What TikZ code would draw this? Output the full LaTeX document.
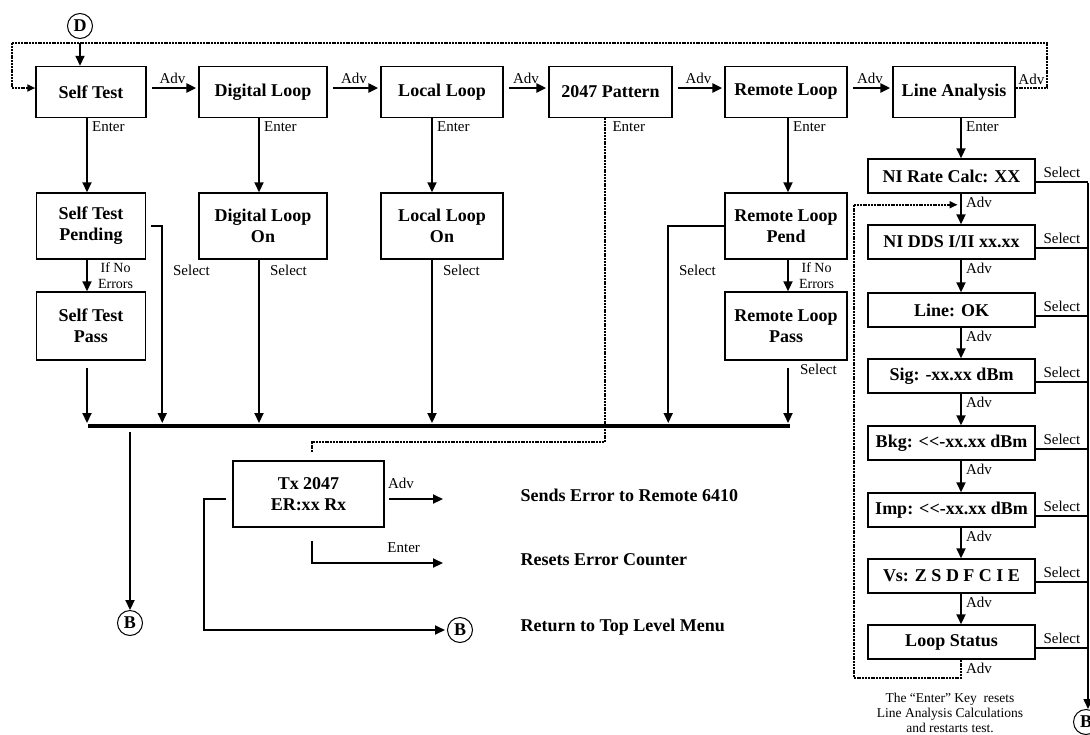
\documentclass[tikz,border=0pt]{standalone}
\usepackage{fontspec}
\setmainfont{Liberation Serif}
\usepackage{tikz}
\usetikzlibrary{
arrows.meta,
positioning,
calc
}
\newcommand{\boxfont}{\fontsize{18}{21}\selectfont\bfseries}
\newcommand{\keyfont}{\fontsize{15}{17}\selectfont}

\begin{document}
\begin{tikzpicture}[
  x=1pt, y=-1pt,
  >={Triangle[length=10pt, width=9pt]},
  menubox/.style={draw, line width=1.5pt, font=\boxfont, align=center, inner sep=2pt},
  topbox/.style={menubox, minimum height=51pt},
  subbox/.style={menubox, minimum height=66pt},
  lnbox/.style={menubox, minimum width=167pt, minimum height=34pt},
  arr/.style={->, line width=2.2pt},
  selline/.style={line width=1.2pt},
  loopline/.style={line width=2pt, dash pattern=on 2pt off 0.8pt},
  keylbl/.style={font=\keyfont, inner sep=1pt},
  conn/.style={draw, circle, line width=1pt, inner sep=0pt, minimum size=25pt,
    font=\fontsize{18}{18}\selectfont\bfseries}
]
\useasboundingbox (0,0) rectangle (1090,734);

%% ── TOP LEVEL MENU ──────────────────────────────────────────
\node[topbox, minimum width=110pt] (selftest) at (91,92)    {Self Test};
\node[topbox, minimum width=128pt] (digital)  at (263,92)   {Digital Loop};
\node[topbox, minimum width=122pt] (local)    at (442,92)   {Local Loop};
\node[topbox, minimum width=123pt] (pattern)  at (610.5,92) {2047 Pattern};
\node[topbox, minimum width=122pt] (remote)   at (786,92)   {Remote Loop};
\node[topbox, minimum width=122pt] (lineana)  at (954,92)   {Line Analysis};

\node[conn] (dnode) at (80,26) {D};
\draw[arr, shorten <=4pt] (dnode.south) -- (dnode.south |- selftest.north);

\foreach \a/\b in {selftest/digital, digital/local, local/pattern,
                   pattern/remote, remote/lineana}
  \draw[arr, line width=2.8pt, shorten <=5pt, shorten >=2pt]
    ([yshift=4pt]\a.east) -- ([yshift=4pt]\b.west)
    node[keylbl, midway, above=2pt] {Adv};

%% loop back to Self Test
\coordinate (topL) at (12,43);
\coordinate (topR) at (1047,43);
\draw[loopline, ->, >={Triangle[length=8pt, width=7pt]}]
  ([yshift=4pt]lineana.east) -- ([yshift=4pt]lineana.east -| topR)
  node[keylbl, midway, above=1pt] {Adv}
  -- (topR) -- (topL) |- ([yshift=4pt]selftest.west);

%% ── SUB MENUS ───────────────────────────────────────────────
\node[subbox, minimum width=109pt] (pend)  at (91,226)  {Self Test\\Pending};
\node[subbox, minimum width=128pt] (digon) at (263,226) {Digital Loop\\On};
\node[subbox, minimum width=122pt] (locon) at (442,226) {Local Loop\\On};
\node[subbox, minimum width=122pt] (rpend) at (786,226) {Remote Loop\\Pend};
\node[subbox, minimum width=109pt, minimum height=68pt] (pass)  at (91,326)
  {Self Test\\Pass};
\node[subbox, minimum width=122pt, minimum height=68pt] (rpass) at (786,326)
  {Remote Loop\\Pass};

%% ── LINE ANALYSIS ───────────────────────────────────────────
\node[lnbox] (nirate) at (951.5,176) {NI Rate Calc: XX};
\node[lnbox] (nidds)  at (951.5,242) {NI DDS I/II xx.xx};
\node[lnbox] (lineok) at (951.5,310) {Line: OK};
\node[lnbox] (sig)    at (951.5,376) {Sig: -xx.xx dBm};
\node[lnbox] (bkg)    at (951.5,443) {Bkg: <\kern0pt<-xx.xx dBm};
\node[lnbox] (imp)    at (951.5,510) {Imp: <\kern0pt<-xx.xx dBm};
\node[lnbox] (vs)     at (951.5,576) {Vs: Z S D F C I E};
\node[lnbox] (loopst) at (951.5,642) {Loop Status};

%% Enter arrows
\foreach \a/\b/\dx in {selftest/pend/-4, digital/digon/-4, local/locon/-10,
                       remote/rpend/2, lineana/nirate/7}
  \draw[arr] ([xshift=\dx pt]\a.south) -- ([xshift=\dx pt]\a.south |- \b.north)
    node[keylbl, at start, anchor=north west, xshift=3pt, yshift=-1pt] {Enter};

\foreach \a/\b/\dx in {pend/pass/-4, rpend/rpass/2}
  \draw[arr] ([xshift=\dx pt]\a.south) -- ([xshift=\dx pt]\a.south |- \b.north)
    node[keylbl, midway, right, xshift=9pt, align=center,
         font=\fontsize{14}{16}\selectfont] {If No\\Errors};

%% ── RETURN BUS ──────────────────────────────────────────────
\coordinate (busL) at (88,426);
\coordinate (busR) at (790,426);
\draw[line width=4.5pt] (busL) -- (busR);

\foreach \a/\dx in {digon/-4, locon/-10}
  \draw[arr, shorten >=3pt] ([xshift=\dx pt]\a.south) -- ([xshift=\dx pt]\a.south |- busL)
    node[keylbl, at start, anchor=north west, xshift=9pt, yshift=-3pt] {Select};

\draw[arr, shorten <=7pt, shorten >=3pt]
  ([xshift=-4pt]pass.south) -- ([xshift=-4pt]pass.south |- busL);
\draw[arr, shorten <=7pt, shorten >=3pt]
  ([xshift=2pt]rpass.south) -- ([xshift=2pt]rpass.south |- busL)
  node[keylbl, at start, anchor=north west, xshift=10pt, yshift=-1pt] {Select};

\draw[arr, line width=1.8pt, shorten >=3pt]
  ([xshift=5pt]pend.east) -| ([xshift=16pt]pend.east |- busL)
  node[keylbl, pos=0.61, right, xshift=9pt] {Select};
\draw[arr, line width=1.8pt, shorten >=3pt]
  (rpend.west) -| ([xshift=-56pt]rpend.west |- busL)
  node[keylbl, pos=0.61, right, xshift=9pt] {Select};

\node[conn] (bL) at (130,623) {B};
\draw[arr, shorten <=6pt] (bL |- busL) -- (bL.north);

%% ── 2047 PATTERN SUB MENU ───────────────────────────────────
\node[subbox, minimum width=151pt] (tx) at (308.5,494) {Tx 2047\\ER:xx Rx};

\draw[loopline] ([xshift=-6pt]pattern.south)
  node[keylbl, anchor=north west, xshift=6pt, yshift=-1pt] {Enter}
  |- ([xshift=3.5pt, yshift=18pt]tx.north) -- ([xshift=3.5pt, yshift=8pt]tx.north);

\coordinate (advend) at (443,499);
\coordinate (entend) at (443,563);
\node[conn] (bM) at (460,630) {B};

\draw[arr, shorten <=4pt] ([yshift=-5pt]tx.east) -- (advend)
  node[keylbl, pos=0.28, above=8pt] {Adv};
\draw[arr, shorten <=13pt] ([xshift=3.5pt]tx.south) |- (entend)
  node[keylbl, pos=0.85, above=8pt] {Enter};
\draw[arr, line width=1.8pt, shorten <=6pt, shorten >=2pt]
  ([yshift=-5pt]tx.west) -- ++(-28,0) |- (bM.west);

\node[font=\boxfont, anchor=west] (sends)  at (517,495) {Sends Error to Remote 6410};
\node[font=\boxfont, anchor=west] (resets) at (517,560) {Resets Error Counter};
\node[font=\boxfont, anchor=west] (topmenu) at (517,627) {Return to Top Level Menu};

%% ── LINE ANALYSIS LINKS ─────────────────────────────────────
\foreach \a/\b in {nirate/nidds, nidds/lineok, lineok/sig, sig/bkg,
                   bkg/imp, imp/vs, vs/loopst}
  \draw[arr] ([xshift=9.5pt]\a.south) -- ([xshift=9.5pt]\b.north)
    node[keylbl, at start, anchor=north west, xshift=3pt, yshift=-1pt] {Adv};

\draw[loopline, ->, >={Triangle[length=8pt, width=7pt]}]
  ([xshift=9.5pt]loopst.south) -- ++(0,18)
  node[keylbl, midway, right, xshift=3pt] {Adv}
  -| ([xshift=-98pt, yshift=-11pt]nirate.south)
  -- ([xshift=6pt, yshift=-11pt]nirate.south);

%% Select lines
\coordinate (selbus) at (1088,183);
\foreach \n in {nirate, nidds, lineok, sig, bkg, imp, vs, loopst}
  \draw[selline] ([yshift=-6pt]\n.east) -- ([yshift=-6pt]\n.east -| selbus)
    node[keylbl, midway, above=3pt] {Select};

\node[conn] (bR) at (1086,722) {B};
\draw[arr, line width=1.6pt] (selbus) -- (selbus |- bR.north);

\node[font=\fontsize{13.5}{15}\selectfont, align=center] (note) at (950,713)
  {The “Enter” Key\ \ resets\\Line Analysis Calculations\\and restarts test.};

\end{tikzpicture}
\end{document}
